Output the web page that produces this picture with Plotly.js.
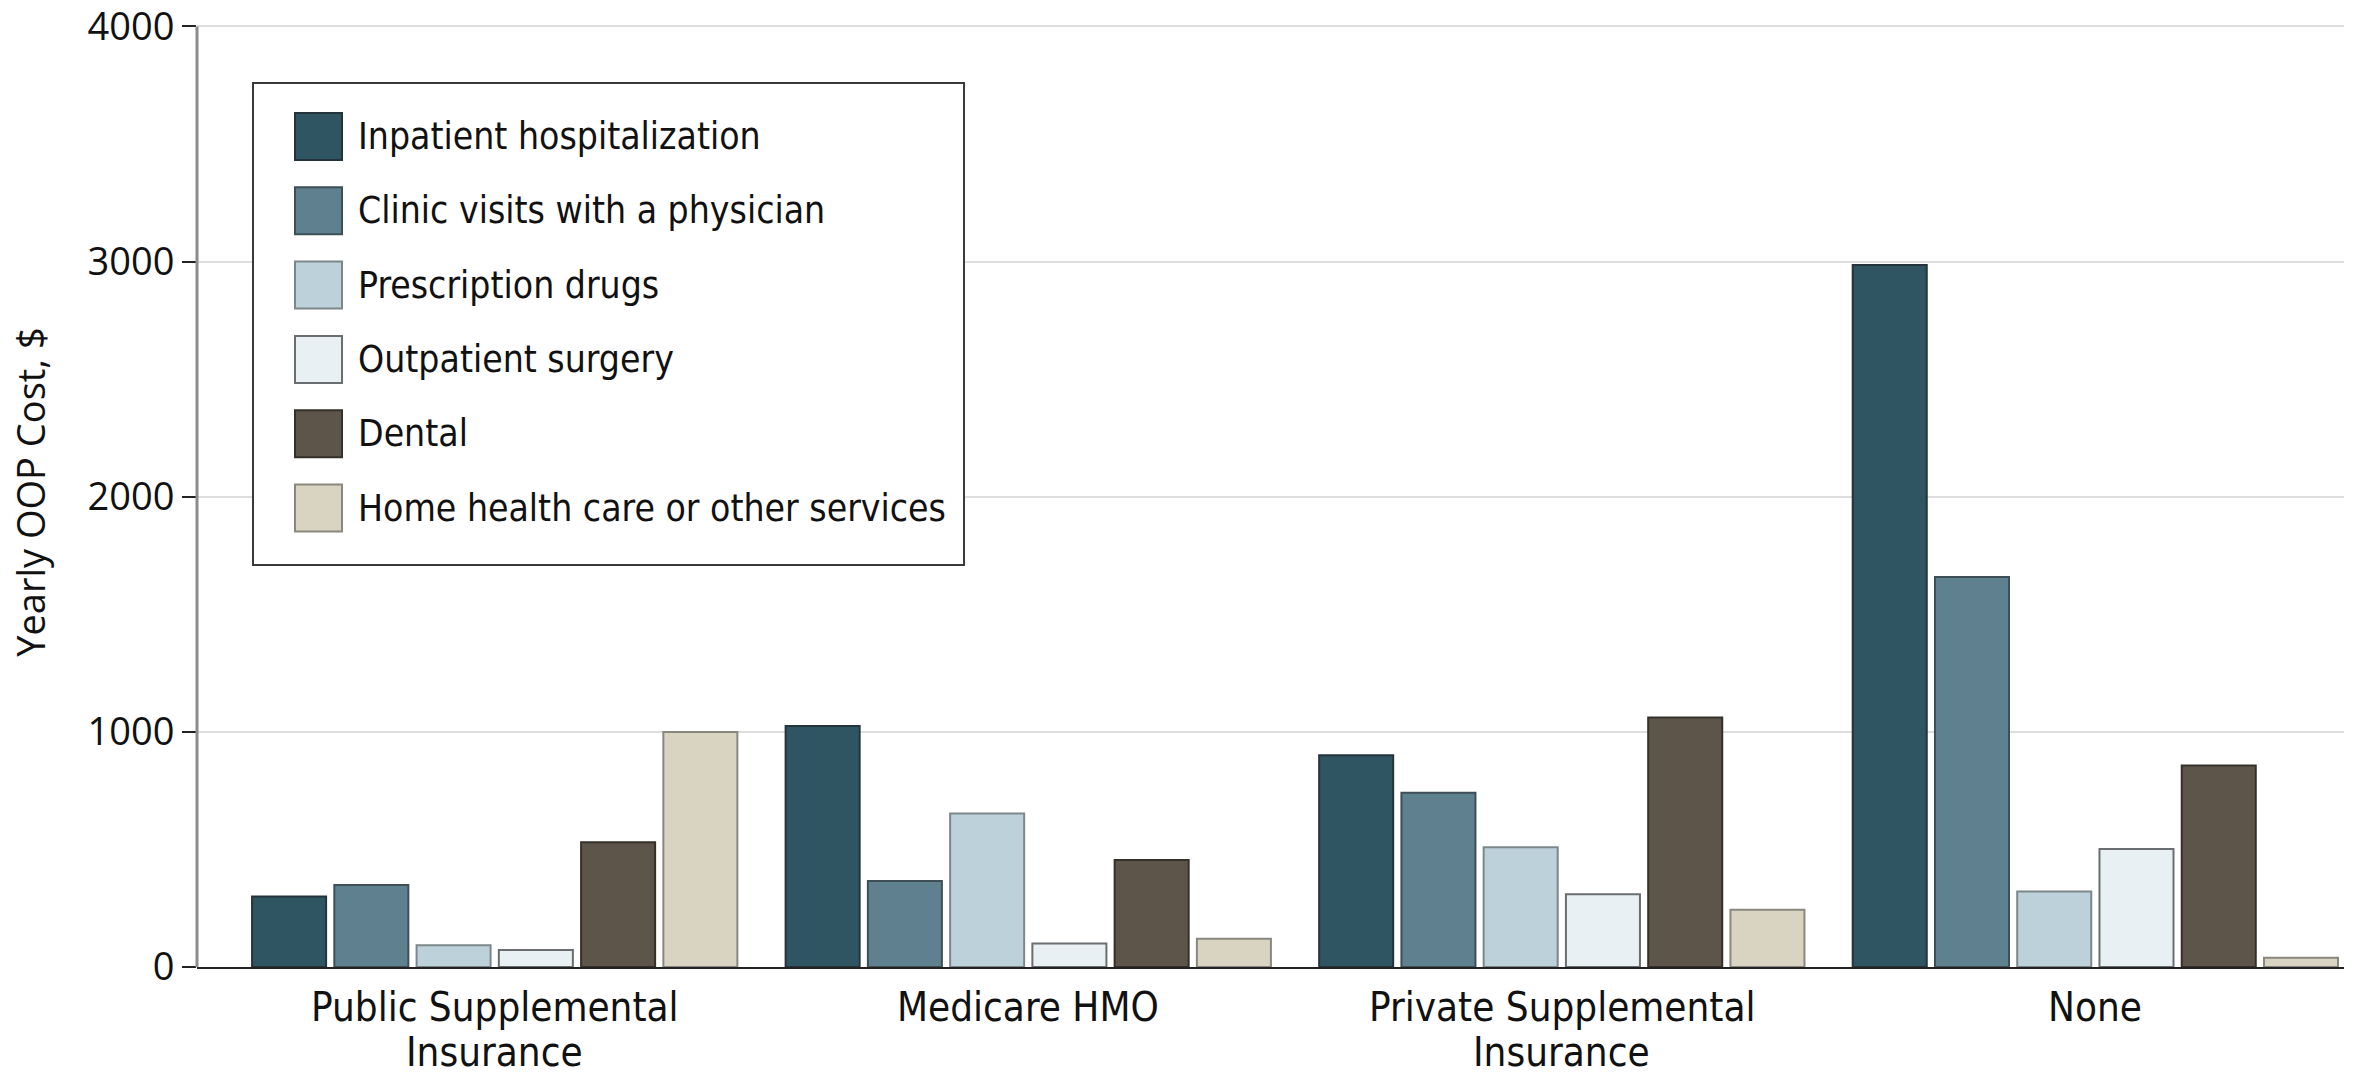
<!DOCTYPE html>
<html>
<head>
<meta charset="utf-8">
<script src="https://cdn.plot.ly/plotly-3.0.1.min.js"></script>
<style>
  html, body { margin: 0; padding: 0; background: #fff; }
  #chart { width: 2359px; height: 1075px; }
</style>
</head>
<body>
<div id="chart"></div>
<script>
// ---- Data ----
const categories = ["Public Supplemental Insurance", "Medicare HMO", "Private Supplemental Insurance", "None"];
const categoryLines = [["Public Supplemental", "Insurance"], ["Medicare HMO"], ["Private Supplemental", "Insurance"], ["None"]];
const seriesNames = ["Inpatient hospitalization", "Clinic visits with a physician", "Prescription drugs", "Outpatient surgery", "Dental", "Home health care or other services"];
const inpatient = [300, 1025, 900, 2985];
const clinic = [349, 366, 741, 1659];
const prescription = [93, 653, 509, 321];
const outpatient = [72, 100, 309, 502];
const dental = [530, 455, 1061, 857];
const homeHealth = [999, 120, 243, 39];
const yTicks = [0, 1000, 2000, 3000, 4000];

// ---- Styles ----
const fills = ["#2f5562", "#5f818f", "#bdd1da", "#e9f0f3", "#5d554a", "#d9d3c2"];
const outlines = ["#24343a", "#3e4f56", "#7c878c", "#6a6e70", "#353029", "#8a877e"];
const condensed = "'DejaVu Sans Condensed', 'Liberation Sans Narrow', sans-serif";
const regular = "'Open Sans', 'Noto Sans', sans-serif";

const W = 2359, H = 1075;
const margin = { l: 197, r: 15, t: 17, b: 108 };
const plotW = W - margin.l - margin.r;
const plotH = H - margin.t - margin.b;
const px = x => (x - margin.l) / plotW;
const py = y => (H - margin.b - y) / plotH;

const values = [inpatient, clinic, prescription, outpatient, dental, homeHealth];
const traces = values.map((v, i) => ({
  type: "bar",
  name: seriesNames[i],
  x: categories,
  y: v,
  marker: { color: fills[i], line: { color: outlines[i], width: 2 } },
  showlegend: false,
  hoverinfo: "x+y+name"
}));

const shapes = [];
const annotations = [];

// y axis line from 0 to top tick only
shapes.push({
  type: "line", xref: "paper", yref: "y", layer: "above",
  x0: 0, x1: 0, y0: yTicks[0], y1: yTicks[yTicks.length - 1],
  line: { color: "#8c8c8c", width: 3 }
});

// custom legend (large swatches)
shapes.push({
  type: "rect", xref: "paper", yref: "paper", layer: "above",
  x0: px(253), x1: px(964), y0: py(83), y1: py(565),
  line: { color: "#3a3a3a", width: 2 }, fillcolor: "#ffffff"
});
const rowTop = 113, rowPitch = 74.3, swH = 47;
seriesNames.forEach((name, i) => {
  const top = rowTop + i * rowPitch;
  shapes.push({
    type: "rect", xref: "paper", yref: "paper", layer: "above",
    x0: px(295), x1: px(342), y0: py(top), y1: py(top + swH),
    line: { color: outlines[i], width: 2 }, fillcolor: fills[i]
  });
  annotations.push({
    xref: "paper", yref: "paper", x: px(356), y: py(top + swH / 2),
    xanchor: "left", yanchor: "middle", showarrow: false,
    text: name, font: { family: condensed, size: 37, color: "#111" }
  });
});

// category labels (tight line spacing)
categories.forEach((c, i) => {
  categoryLines[i].forEach((line, j) => {
    annotations.push({
      xref: "x", yref: "paper", x: c, y: 0,
      xanchor: "center", yanchor: "top", yshift: -15 - j * 45,
      showarrow: false, text: line,
      font: { family: condensed, size: 40, color: "#111" }
    });
  });
});

const layout = {
  width: W, height: H,
  margin: margin,
  paper_bgcolor: "#ffffff",
  plot_bgcolor: "#ffffff",
  barmode: "group",
  bargap: 0.075,
  bargroupgap: 0.1,
  showlegend: false,
  xaxis: {
    type: "category",
    range: [-0.558, 3.466],
    showticklabels: false,
    ticks: "",
    showgrid: false,
    showline: true,
    linecolor: "#222",
    linewidth: 2,
    zeroline: false,
    fixedrange: true
  },
  yaxis: {
    range: [0, 4040],
    tickvals: yTicks,
    ticktext: yTicks.map(String),
    ticks: "outside",
    ticklen: 14,
    tickwidth: 2,
    tickcolor: "#222",
    ticklabeloverflow: "allow",
    showline: false,
    showgrid: true,
    gridcolor: "#dedede",
    gridwidth: 2,
    zeroline: false,
    tickfont: { family: regular, size: 38, color: "#111" },
    title: { text: "Yearly OOP Cost, $", font: { family: regular, size: 38, color: "#111" }, standoff: 30 },
    fixedrange: true
  },
  shapes: shapes,
  annotations: annotations
};

Plotly.newPlot("chart", traces, layout, { displayModeBar: false, staticPlot: true });
</script>
</body>
</html>
